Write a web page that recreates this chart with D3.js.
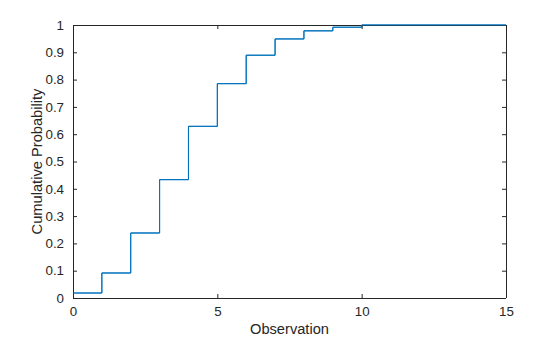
<!DOCTYPE html>
<html>
<head>
<meta charset="utf-8">
<script src="https://cdn.jsdelivr.net/npm/d3@7"></script>
<style>
  html, body { margin: 0; padding: 0; background: #fff; }
  text { font-family: "Liberation Sans", Arial, Helvetica, sans-serif; fill: #262626; }
</style>
</head>
<body>
<svg id="chart" width="560" height="337"></svg>
<script>
const observations = [0, 1, 2, 3, 4, 5, 6, 7, 8, 9, 10, 15];
const cumProb      = [0.0183, 0.0916, 0.2381, 0.4335, 0.6288, 0.7851, 0.8893, 0.9489, 0.9786, 0.9919, 1.0, 1.0];
const xTicks = [0, 5, 10, 15];
const yTicks = [0, 0.1, 0.2, 0.3, 0.4, 0.5, 0.6, 0.7, 0.8, 0.9, 1];
const xLabel = "Observation";
const yLabel = "Cumulative Probability";

const svg = d3.select("#chart");
const L = 73, R = 506, T = 25, B = 298;
const axisColor = "#262626";
const x = d3.scaleLinear().domain([0, 15]).range([L, R]);
const y = d3.scaleLinear().domain([0, 1]).range([B, T]);

const fmt = d => d3.format("~g")(d);

// data line
const data = observations.map((o, i) => ({x: o, y: cumProb[i]}));
const line = d3.line().x(d => x(d.x)).y(d => y(d.y)).curve(d3.curveStepAfter);
svg.append("path").datum(data)
  .attr("d", line)
  .attr("fill", "none")
  .attr("stroke", "#0072BD")
  .attr("stroke-width", 1);

function styleAxis(g) {
  g.select(".domain").remove();
  g.selectAll("line").attr("stroke", axisColor);
  g.selectAll("text").attr("fill", axisColor)
    .style("font-family", '"Liberation Sans", Arial, sans-serif')
    .style("font-size", "13.33px");
}

// bottom axis (ticks inward)
svg.append("g").attr("transform", `translate(0,${B})`)
  .call(d3.axisBottom(x).tickValues(xTicks).tickFormat(fmt).tickSizeInner(-4).tickSizeOuter(0).tickPadding(9))
  .call(styleAxis);
// top axis ticks (no labels)
svg.append("g").attr("transform", `translate(0,${T})`)
  .call(d3.axisTop(x).tickValues(xTicks).tickFormat("").tickSizeInner(-4).tickSizeOuter(0))
  .call(styleAxis);
// left axis
svg.append("g").attr("transform", `translate(${L},0)`)
  .call(d3.axisLeft(y).tickValues(yTicks).tickFormat(fmt).tickSizeInner(-4).tickSizeOuter(0).tickPadding(9))
  .call(styleAxis);
// right axis ticks
svg.append("g").attr("transform", `translate(${R},0)`)
  .call(d3.axisRight(y).tickValues(yTicks).tickFormat("").tickSizeInner(-4).tickSizeOuter(0))
  .call(styleAxis);

// box
svg.append("path")
  .attr("d", `M${L},${T}H${R}M${L},${B}H${R}M${L},${T}V${B}M${R},${T}V${B}`)
  .attr("stroke", axisColor).attr("stroke-width", 1).attr("fill", "none")
  .attr("shape-rendering", "crispEdges");

// redraw data line on top of box so it covers top border where y=1
svg.append("path").datum(data)
  .attr("d", line)
  .attr("fill", "none")
  .attr("stroke", "#0072BD")
  .attr("stroke-width", 1);

// axis labels
svg.append("text")
  .attr("x", (L + R) / 2).attr("y", 333.5)
  .attr("text-anchor", "middle")
  .style("font-size", "14.67px")
  .text(xLabel);

svg.append("text")
  .attr("transform", `translate(41.5,${(T + B) / 2}) rotate(-90)`)
  .attr("text-anchor", "middle")
  .style("font-size", "14.67px")
  .text(yLabel);
</script>
</body>
</html>
